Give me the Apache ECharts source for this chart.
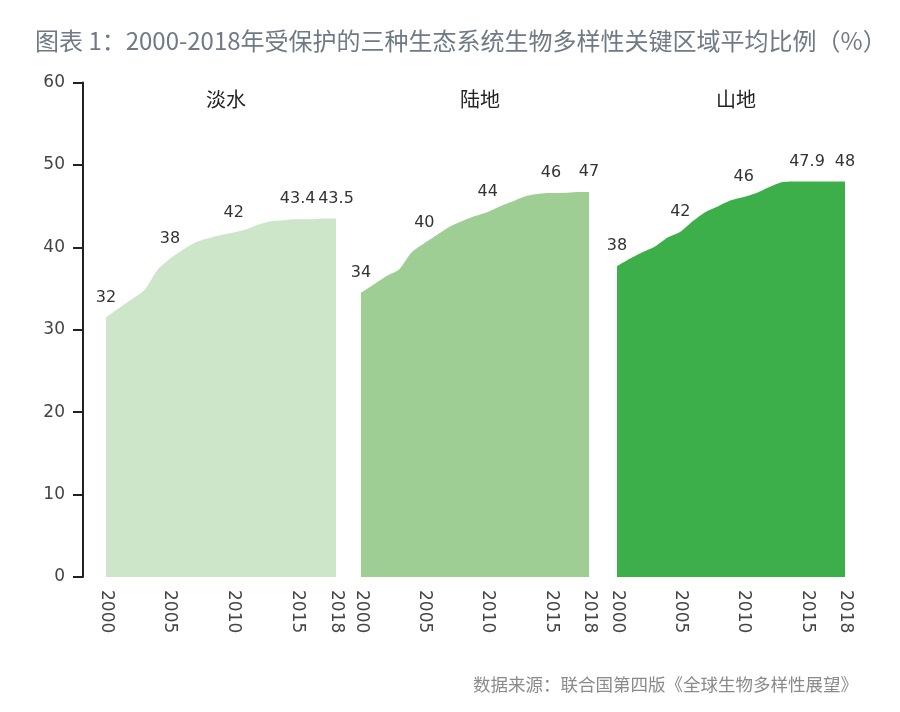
<!DOCTYPE html>
<html>
<head>
<meta charset="utf-8">
<title>受保护的三种生态系统生物多样性关键区域平均比例</title>
<script src="https://cdn.jsdelivr.net/npm/echarts@6/dist/echarts.min.js"></script>
<style>
  html, body { margin: 0; padding: 0; background: #fff; }
  #chart { width: 900px; height: 712px; }
</style>
</head>
<body>
<div id="chart"></div>
<script>
// 年份
const years = ['2000', '2001', '2002', '2003', '2004', '2005', '2006', '2007', '2008', '2009',
  '2010', '2011', '2012', '2013', '2014', '2015', '2016', '2017', '2018'];
// x 轴只显示这几个年份
const tickYears = ['2000', '2005', '2010', '2015', '2018'];

const panelNames = ['淡水', '陆地', '山地'];

// 各生态系统逐年比例（%）
const freshwater = [31.5, 32.6, 33.7, 34.8, 37.2, 38.6, 39.7, 40.6, 41.1, 41.5,
  41.8, 42.2, 42.8, 43.2, 43.3, 43.4, 43.4, 43.5, 43.5];
const land = [34.5, 35.5, 36.5, 37.3, 39.4, 40.5, 41.5, 42.5, 43.2, 43.8,
  44.3, 45.0, 45.6, 46.2, 46.5, 46.6, 46.6, 46.7, 46.7];
const mountain = [37.7, 38.6, 39.4, 40.1, 41.2, 41.9, 43.2, 44.3, 45.0, 45.7,
  46.1, 46.6, 47.3, 47.9, 48.0, 48.0, 48.0, 48.0, 48.0];

// 图上标注的数值
const freshwaterLabels = ['32', '38', '42', '43.4', '43.5'];
const landLabels = ['34', '40', '44', '46', '47'];
const mountainLabels = ['38', '42', '46', '47.9', '48'];

const colors = ['#cde6c9', '#9fce95', '#3caf4a'];

const seriesValues = [freshwater, land, mountain];
const seriesLabels = [freshwaterLabels, landLabels, mountainLabels];

const grids = [
  { left: 106, width: 230, top: 82.5, height: 494.5 },
  { left: 361, width: 228, top: 82.5, height: 494.5 },
  { left: 617, width: 228, top: 82.5, height: 494.5 },
];

const labelFont = 'DejaVu Sans, Liberation Sans, sans-serif';
const cjkFont = '"Noto Sans CJK SC", sans-serif';

const chart = echarts.init(document.getElementById('chart'), null, { renderer: 'canvas' });

const xAxis = grids.map((g, i) => ({
  type: 'category',
  gridIndex: i,
  data: years,
  boundaryGap: false,
  axisLine: { show: false },
  axisTick: { show: false },
  axisLabel: {
    rotate: -90,
    margin: 13,
    fontSize: 17,
    color: '#444',
    fontFamily: labelFont,
    interval: (idx, val) => tickYears.includes(val),
  },
  splitLine: { show: false },
}));

const yAxis = grids.map((g, i) => ({
  type: 'value',
  gridIndex: i,
  min: 0,
  max: 60,
  interval: 10,
  show: i === 0,
  offset: 23,
  axisLine: { show: true, lineStyle: { color: '#222', width: 2 } },
  axisTick: { show: true, length: 10, lineStyle: { color: '#222', width: 2 } },
  axisLabel: { margin: 18, fontSize: 17, color: '#444', fontFamily: labelFont },
  splitLine: { show: false },
}));

const series = seriesValues.map((vals, i) => {
  const data = vals.map((v, j) => {
    const k = tickYears.indexOf(years[j]);
    if (k < 0) return v;
    return {
      value: v,
      label: { show: true, formatter: seriesLabels[i][k] },
    };
  });
  return {
    name: panelNames[i],
    type: 'line',
    xAxisIndex: i,
    yAxisIndex: i,
    data: data,
    smooth: 0.25,
    symbol: 'circle',
    symbolSize: 0,
    showSymbol: true,
    showAllSymbol: true,
    lineStyle: { width: 0 },
    itemStyle: { color: colors[i] },
    areaStyle: { color: colors[i], opacity: 1 },
    label: {
      show: false,
      position: 'top',
      distance: 12,
      fontSize: 16,
      color: '#333',
      fontFamily: labelFont,
    },
    emphasis: { disabled: true },
    silent: true,
  };
});

const titles = [
  {
    text: '图表 1：2000-2018年受保护的三种生态系统生物多样性关键区域平均比例（%）',
    left: 30,
    top: 24,
    textStyle: { fontSize: 24, fontWeight: 'normal', color: '#6f7a86', fontFamily: cjkFont },
  },
  {
    text: '数据来源：联合国第四版《全球生物多样性展望》',
    right: 37,
    top: 671,
    textStyle: { fontSize: 17.5, fontWeight: 'normal', color: '#8a8a8a', fontFamily: cjkFont },
  },
];
grids.forEach((g, i) => {
  titles.push({
    text: panelNames[i],
    left: g.left + g.width / 2,
    top: 84,
    textAlign: 'center',
    textStyle: { fontSize: 20, fontWeight: 'normal', color: '#222', fontFamily: cjkFont },
  });
});

chart.setOption({
  backgroundColor: '#fff',
  animation: false,
  title: titles,
  grid: grids,
  xAxis: xAxis,
  yAxis: yAxis,
  series: series,
});
</script>
</body>
</html>
